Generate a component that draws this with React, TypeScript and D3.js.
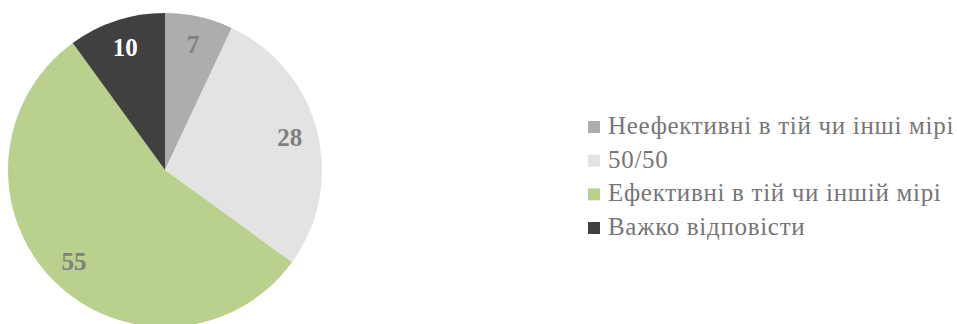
import React from "react";
import * as d3 from "d3";

const categories = [
  "Неефективні в тій чи інші мірі",
  "50/50",
  "Ефективні в тій чи іншій мірі",
  "Важко відповісти",
];
const values = [7, 28, 55, 10];
const colors = ["#adadad", "#e3e3e3", "#b9d18c", "#404040"];
const labelColors = ["#7f7f7f", "#7f7f7f", "#7f7f7f", "#ffffff"];

const W = 957;
const H = 324;
const cx = 165;
const cy = 170;
const R = 157;
const FONT = "Liberation Serif";

export default function App() {
  const pie = d3.pie<number>().sort(null).value((d) => d)(values);
  const arc = d3.arc<d3.PieArcDatum<number>>().innerRadius(0).outerRadius(R);
  const labelArc = d3
    .arc<d3.PieArcDatum<number>>()
    .innerRadius(R * 0.82)
    .outerRadius(R * 0.82);
  const legendY = d3.scalePoint<number>().domain(d3.range(categories.length)).range([134, 235]);

  return (
    <svg
      width={W}
      height={H}
      style={{ position: "absolute", left: 0, top: 0, background: "#fff" }}
    >
      <g transform={`translate(${cx},${cy})`}>
        {pie.map((p, i) => (
          <path key={i} d={arc(p) || ""} fill={colors[i]} />
        ))}
        {pie.map((p, i) => {
          const [x, y] = labelArc.centroid(p);
          return (
            <text
              key={i}
              x={x}
              y={y}
              textAnchor="middle"
              dominantBaseline="central"
              fontFamily={FONT}
              fontSize={25}
              fontWeight="bold"
              fill={labelColors[i]}
            >
              {values[i]}
            </text>
          );
        })}
      </g>
      <g>
        {categories.map((c, i) => {
          const y = legendY(i)!;
          return (
            <g key={i}>
              <rect x={588} y={y - 13} width={12} height={12} fill={colors[i]} />
              <text
                x={608}
                y={y}
                fontFamily={FONT}
                fontSize={25}
                letterSpacing={0.7}
                fill="#767676"
              >
                {c}
              </text>
            </g>
          );
        })}
      </g>
    </svg>
  );
}
